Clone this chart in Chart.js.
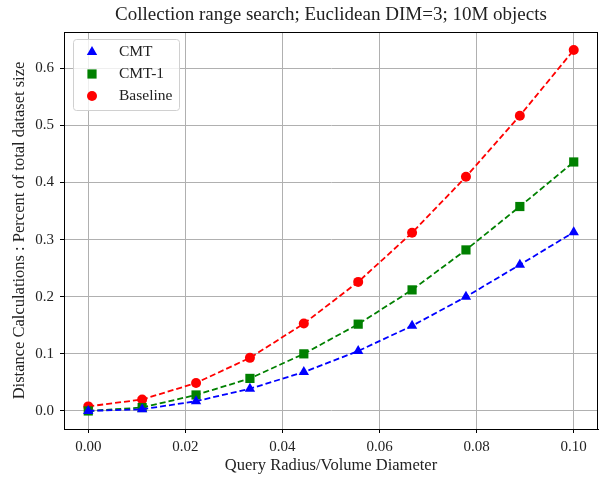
<!DOCTYPE html>
<html>
<head>
<meta charset="utf-8">
<script src="https://cdn.jsdelivr.net/npm/chart.js@4.4.0/dist/chart.umd.min.js"></script>
<style>
  html, body { margin: 0; padding: 0; background: #fff; overflow: hidden; }
  canvas { display: block; }
</style>
</head>
<body>
<canvas id="rangeChart" width="600" height="480"></canvas>
<script>
// values
const radius = [0, 0.0111, 0.0222, 0.0333, 0.0444, 0.0556, 0.0667, 0.0778, 0.0889, 0.1];
const cmt = [0.0, 0.003, 0.017, 0.039, 0.068, 0.105, 0.149, 0.200, 0.256, 0.313];
const cmt1 = [0.0, 0.006, 0.028, 0.057, 0.100, 0.152, 0.212, 0.282, 0.358, 0.436];
const baseline = [0.008, 0.020, 0.049, 0.093, 0.153, 0.226, 0.312, 0.410, 0.517, 0.632];

const xTicks = [0, 0.02, 0.04, 0.06, 0.08, 0.10];
const yTicks = [0.0, 0.1, 0.2, 0.3, 0.4, 0.5, 0.6];

const titleText = "Collection range search; Euclidean DIM=3; 10M objects";
const xLabel = "Query Radius/Volume Diameter";
const yLabel = "Distance Calculations : Percent of total dataset size";

const serif = "'Liberation Serif', 'DejaVu Serif', serif";

function pts(ys) {
  return radius.map((x, i) => ({ x: x, y: ys[i] }));
}

function series(label, ys, color, style, r) {
  return {
    label: label,
    data: pts(ys),
    borderColor: color,
    backgroundColor: color,
    borderWidth: 1.8,
    borderDash: [6, 3],
    pointStyle: style,
    pointRadius: r,
    pointBorderWidth: 0,
    pointBackgroundColor: color,
    tension: 0
  };
}

// frame on top/right + title + legend inside the axes
const extras = {
  id: "extras",
  afterDatasetsDraw(chart) {
    const { ctx, chartArea: a } = chart;
    ctx.save();
    ctx.strokeStyle = "#000";
    ctx.lineWidth = 1;
    ctx.strokeRect(a.left + 0.5, a.top + 0.5, a.right - a.left - 1, a.bottom - a.top);

    ctx.fillStyle = "#222";
    ctx.font = "19px " + serif;
    ctx.textAlign = "center";
    ctx.textBaseline = "middle";
    ctx.fillText(titleText, (a.left + a.right) / 2, 15);

    // legend
    const bx = a.left + 9, by = a.top + 7, bw = 106, bh = 71;
    ctx.fillStyle = "rgba(255,255,255,0.8)";
    ctx.strokeStyle = "#d0d0d0";
    ctx.beginPath();
    ctx.roundRect(bx + 0.5, by + 0.5, bw, bh, 3);
    ctx.fill();
    ctx.stroke();

    ctx.font = "15.5px " + serif;
    ctx.textAlign = "left";
    chart.data.datasets.forEach((ds, i) => {
      const cy = by + 13 + i * 22;
      ctx.fillStyle = ds.backgroundColor;
      Chart.helpers.drawPoint(ctx, { pointStyle: ds.pointStyle, radius: ds.pointRadius, borderWidth: 0 }, bx + 19, cy);
      ctx.fillStyle = "#222";
      ctx.fillText(ds.label, bx + 46, cy);
    });
    ctx.restore();
  }
};

new Chart(document.getElementById("rangeChart"), {
  type: "line",
  data: {
    datasets: [
      series("CMT", cmt, "#0000ff", "triangle", 6),
      series("CMT-1", cmt1, "#008000", "rect", 6.5),
      series("Baseline", baseline, "#ff0000", "circle", 5)
    ]
  },
  options: {
    responsive: false,
    animation: false,
    layout: { autoPadding: false, padding: { top: 32, right: 2, left: 0, bottom: 0 } },
    plugins: {
      legend: { display: false },
      tooltip: { enabled: false }
    },
    scales: {
      x: {
        type: "linear",
        min: -0.005,
        max: 0.105,
        afterFit: s => { s.height = 51; s.paddingLeft = 0; s.paddingRight = 0; },
        afterBuildTicks: s => { s.ticks = xTicks.map(v => ({ value: v })); },
        grid: { color: "#b0b0b0", lineWidth: 1, tickColor: "#000", tickLength: 4 },
        border: { color: "#000", width: 1 },
        ticks: {
          color: "#222",
          font: { family: serif, size: 15 },
          padding: 5,
          maxRotation: 0,
          callback: v => v.toFixed(2)
        },
        title: {
          display: true,
          text: xLabel,
          color: "#222",
          font: { family: serif, size: 16.5 },
          padding: { top: 0, bottom: 4 }
        }
      },
      y: {
        type: "linear",
        min: -0.0316,
        max: 0.6636,
        afterFit: s => { s.width = 64; s.paddingTop = 0; s.paddingBottom = 0; },
        afterBuildTicks: s => { s.ticks = yTicks.map(v => ({ value: v })); },
        grid: { color: "#b0b0b0", lineWidth: 1, tickColor: "#000", tickLength: 4 },
        border: { color: "#000", width: 1 },
        ticks: {
          color: "#222",
          font: { family: serif, size: 15 },
          padding: 6,
          callback: v => v.toFixed(1)
        },
        title: {
          display: true,
          text: yLabel,
          color: "#222",
          font: { family: serif, size: 16.5 },
          padding: { top: 10, bottom: 0 }
        }
      }
    }
  },
  plugins: [extras]
});
</script>
</body>
</html>
